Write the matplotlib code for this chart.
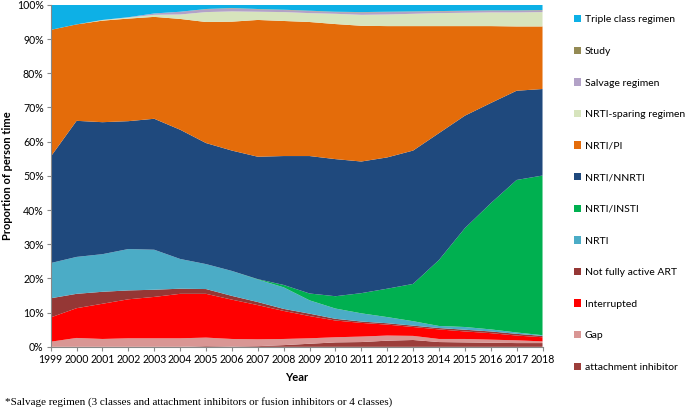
import matplotlib
matplotlib.use("Agg")
import matplotlib.pyplot as plt
from matplotlib.patches import Patch
from matplotlib.ticker import FuncFormatter

years = list(range(1999, 2019))

# share of person time (%) per regimen group, bottom layer first
attachment_inhibitor = [0, 0, 0, 0, 0, 0, 0.2, 0.1, 0.2, 0.5, 0.9, 1.3, 1.4, 1.8, 2.0, 1.4, 1.3, 1.2, 1.1, 1.1]
gap = [1.5, 2.6, 2.3, 2.5, 2.5, 2.5, 2.5, 2.2, 2.0, 1.8, 1.6, 1.5, 1.6, 1.5, 1.2, 0.9, 1.0, 0.9, 0.8, 0.5]
interrupted = [7.1, 8.7, 10.3, 11.4, 12.1, 13.0, 12.8, 11.5, 10.0, 8.2, 6.5, 4.9, 4.0, 3.2, 2.6, 2.8, 2.2, 1.9, 1.4, 1.2]
not_fully_active = [5.6, 4.2, 3.5, 2.6, 2.1, 1.5, 1.4, 1.1, 0.9, 0.6, 0.7, 0.5, 0.4, 0.4, 0.4, 0.4, 0.5, 0.5, 0.5, 0.4]
nrti = [10.3, 10.8, 11.0, 12.1, 11.7, 8.7, 7.3, 7.3, 6.6, 6.3, 3.9, 3.0, 2.4, 1.8, 1.3, 0.6, 0.8, 0.6, 0.4, 0.2]
nrti_insti = [0, 0, 0, 0, 0, 0, 0, 0, 0.1, 0.7, 2.0, 3.6, 5.9, 8.3, 10.9, 19.3, 28.9, 36.9, 44.6, 46.7]
nrti_nnrti = [31.1, 39.8, 38.6, 37.4, 38.3, 37.8, 35.4, 35.2, 35.8, 37.7, 40.2, 40.1, 38.5, 38.4, 39.0, 37.1, 32.9, 29.3, 26.1, 25.3]
nrti_pi = [37.1, 28.2, 29.7, 30.0, 29.8, 32.4, 35.4, 37.7, 40.0, 39.5, 39.2, 39.5, 39.7, 38.4, 36.4, 31.3, 26.2, 22.5, 18.8, 18.3]
nrti_sparing = [0, 0, 0.2, 0.3, 0.6, 1.3, 2.9, 3.0, 2.4, 2.6, 2.6, 3.0, 3.2, 3.4, 3.6, 3.8, 3.9, 4.0, 4.1, 4.2]
salvage = [0, 0, 0, 0.1, 0.4, 0.8, 0.8, 0.9, 0.7, 0.6, 0.6, 0.5, 0.7, 0.7, 0.6, 0.5, 0.5, 0.5, 0.5, 0.5]
study = [0, 0, 0, 0, 0, 0, 0.1, 0.1, 0.1, 0.1, 0.1, 0.1, 0.1, 0.1, 0.1, 0.1, 0.1, 0.1, 0.1, 0.1]
triple_class = [7.3, 5.7, 4.4, 3.6, 2.5, 2.0, 1.2, 0.9, 1.2, 1.4, 1.7, 2.0, 2.1, 2.0, 1.9, 1.8, 1.7, 1.6, 1.6, 1.5]

series = [attachment_inhibitor, gap, interrupted, not_fully_active, nrti, nrti_insti,
          nrti_nnrti, nrti_pi, nrti_sparing, salvage, study, triple_class]
labels = ["attachment inhibitor", "Gap", "Interrupted", "Not fully active ART", "NRTI",
          "NRTI/INSTI", "NRTI/NNRTI", "NRTI/PI", "NRTI-sparing regimen",
          "Salvage regimen", "Study", "Triple class regimen"]
colors = ["#9C3E3B", "#D99694", "#FF0000", "#953735", "#4BACC6", "#00B050",
          "#1F497D", "#E46C0A", "#D7E4BD", "#B3A2C7", "#948A54", "#0DB0E6"]

plt.rcParams["font.family"] = ["Lato", "DejaVu Sans"]

fig = plt.figure(figsize=(6.85, 4.09), dpi=100)
ax = fig.add_axes([0.074, 0.152, 0.718, 0.836])

ax.stackplot(years, series, colors=colors, linewidth=0)

ax.set_xlim(1999, 2018)
ax.set_ylim(0, 100)
ax.set_xticks(years)
ax.set_yticks(range(0, 101, 10))
ax.yaxis.set_major_formatter(FuncFormatter(lambda v, p: f"{int(v)}%"))
ax.tick_params(axis="both", labelsize=7.6, color="#888888", length=3, pad=2)
for side in ["top", "right"]:
    ax.spines[side].set_visible(False)
for side in ["left", "bottom"]:
    ax.spines[side].set_color("#888888")
    ax.spines[side].set_linewidth(0.8)

ax.set_xlabel("Year", fontsize=8, fontweight="bold", labelpad=5)
ax.set_ylabel("Proportion of person time", fontsize=8, fontweight="bold", labelpad=3)

handles = [Patch(facecolor=c, edgecolor="none") for c in colors]
fig.legend(handles[::-1], labels[::-1], loc="upper left", bbox_to_anchor=(0.838, 0.963),
           frameon=False, fontsize=7.5, handlelength=0.7, handleheight=0.7,
           handletextpad=0.35, labelspacing=2.14, borderpad=0, borderaxespad=0)

fig.text(0.008, 0.006, "*Salvage regimen (3 classes and attachment inhibitors or fusion inhibitors or 4 classes)",
         fontsize=8, family="Liberation Serif", ha="left", va="bottom")

fig.savefig("out.png", dpi=100)
